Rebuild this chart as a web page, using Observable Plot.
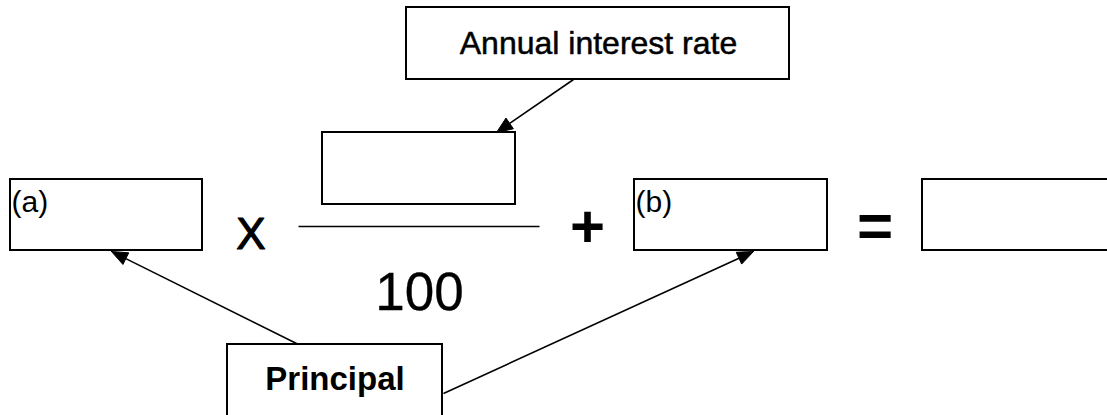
<!DOCTYPE html>
<html>
<head>
<meta charset="utf-8">
<script src="https://cdn.jsdelivr.net/npm/d3@7"></script>
<script src="https://cdn.jsdelivr.net/npm/@observablehq/plot@0.6"></script>
<style>
  html, body { margin: 0; padding: 0; background: #fff; }
  #chart { width: 1107px; height: 415px; overflow: hidden; }
</style>
</head>
<body>
<div id="chart"></div>
<script>
// Diagram layout (pixel units of the original drawing)
const boxNames  = ["rate", "numerator", "a", "b", "result", "principal"];
const boxLeft   = [406, 322, 10, 634, 922, 227];
const boxRight  = [789, 515, 202, 827, 1120, 442];
const boxTop    = [7, 132, 179, 179, 179, 344];
const boxBottom = [79, 204, 250, 250, 250, 420];

// Regular centred labels
const centerLabels = ["Annual interest rate", "100", "X"];
const centerX      = [598, 419, 250.5];
const centerY      = [43, 293, 234];
const centerSize   = [32, 53, 44];
const centerWeight = [0.5, 0.3, 1.2];

// Operator symbols (heavy)
const opLabels = ["+", "="];
const opX      = [587, 874.5];
const opY      = [227.5, 227];
const opSize   = [60, 62];

// Corner labels inside boxes
const cornerLabels = ["(a)", "(b)"];
const cornerX      = [11, 635];
const cornerY      = [201.5, 201.5];

// Bold label
const boldLabels = ["Principal"];
const boldX      = [334.5];
const boldY      = [378.5];

// Fraction bar
const barX1 = [298], barX2 = [539], barY = [226];

// Arrows (from -> to, head at "to")
const arrowFromX = [573, 298, 443];
const arrowFromY = [79, 344, 393];
const arrowToX   = [496, 111, 753];
const arrowToY   = [132, 251, 251];

const boxes = boxNames.map((n, i) => ({name: n, x1: boxLeft[i], x2: boxRight[i], y1: boxTop[i], y2: boxBottom[i]}));
const centers = centerLabels.map((t, i) => ({t, x: centerX[i], y: centerY[i], s: centerSize[i], w: centerWeight[i]}));
const ops = opLabels.map((t, i) => ({t, x: opX[i], y: opY[i], s: opSize[i]}));
const corners = cornerLabels.map((t, i) => ({t, x: cornerX[i], y: cornerY[i]}));
const bolds = boldLabels.map((t, i) => ({t, x: boldX[i], y: boldY[i]}));
const bars = barX1.map((x1, i) => ({x1, x2: barX2[i], y: barY[i]}));

const headLen = 16, headHalf = 6.5;
const links = [], heads = [];
arrowFromX.forEach((fx, i) => {
  const fy = arrowFromY[i], tx = arrowToX[i], ty = arrowToY[i];
  const dx = tx - fx, dy = ty - fy, len = Math.hypot(dx, dy);
  const ux = dx / len, uy = dy / len;
  const bx = tx - headLen * ux, by = ty - headLen * uy;
  const nx = -uy, ny = ux;
  links.push({x1: fx, y1: fy, x2: bx, y2: by});
  heads.push({id: i, x: tx, y: ty});
  heads.push({id: i, x: bx + headHalf * nx, y: by + headHalf * ny});
  heads.push({id: i, x: bx - headHalf * nx, y: by - headHalf * ny});
  heads.push({id: i, x: tx, y: ty});
});

const font = "'Liberation Sans', Arial, Helvetica, sans-serif";

const chart = Plot.plot({
  width: 1107,
  height: 415,
  margin: 0,
  x: {domain: [0, 1107], range: [0, 1107], axis: null},
  y: {domain: [0, 415], range: [0, 415], axis: null},
  style: {background: "#fff", fontFamily: font, color: "#000", overflow: "hidden"},
  marks: [
    Plot.link(links, {x1: "x1", y1: "y1", x2: "x2", y2: "y2", stroke: "#000", strokeWidth: 1.6}),
    Plot.line(heads, {x: "x", y: "y", z: "id", fill: "#000", stroke: "#000", strokeWidth: 1, curve: "linear"}),
    Plot.rect(boxes, {x1: "x1", x2: "x2", y1: "y1", y2: "y2", fill: "none", stroke: "#000", strokeWidth: 2, clip: true}),
    Plot.link(bars, {x1: "x1", x2: "x2", y1: "y", y2: "y", stroke: "#000", strokeWidth: 1.6}),
    Plot.text(centers, {x: "x", y: "y", text: "t", fontSize: "s", fill: "#000", stroke: "#000", strokeWidth: "w", textAnchor: "middle"}),
    Plot.text(ops, {x: "x", y: "y", text: "t", fontSize: "s", fontWeight: "bold", fill: "#000", textAnchor: "middle"}),
    Plot.text(corners, {x: "x", y: "y", text: "t", fontSize: 30, fill: "#000", textAnchor: "start"}),
    Plot.text(bolds, {x: "x", y: "y", text: "t", fontSize: 33, fontWeight: "bold", fill: "#000", textAnchor: "middle"})
  ]
});
document.getElementById("chart").appendChild(chart);
</script>
</body>
</html>
